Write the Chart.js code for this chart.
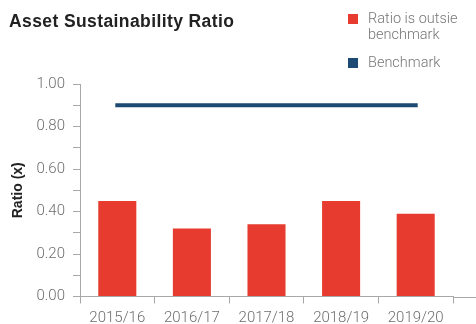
<!DOCTYPE html>
<html>
<head>
<meta charset="utf-8">
<script src="https://cdn.jsdelivr.net/npm/chart.js@4/dist/chart.umd.min.js"></script>
<style>
  html, body { margin: 0; padding: 0; background: #fff; }
  #wrap { position: relative; width: 476px; height: 324px; overflow: hidden; }
  #chart { position: absolute; left: 0; top: 0; }
  .title {
    position: absolute; left: 9px; top: 11px;
    font: bold 17.5px "Liberation Sans", Arial, sans-serif; color: #222;
    letter-spacing: 0.4px; white-space: nowrap;
  }
  .legend { position: absolute; left: 348px; top: 11px; font: 300 14.5px Roboto, "Liberation Sans", sans-serif; color: #777; line-height: 16px; }
  .legend .item { position: relative; padding-left: 20px; margin-bottom: 12px; }
  .legend .sw { position: absolute; left: 0; top: 3px; width: 10px; height: 10px; }
</style>
</head>
<body>
<div id="wrap">
  <canvas id="chart" width="476" height="324"></canvas>
  <div class="title">Asset Sustainability Ratio</div>
  <div class="legend">
    <div class="item"><span class="sw" style="background:#e63b2e"></span>Ratio is outsie<br>benchmark</div>
    <div class="item"><span class="sw" style="background:#1c4a73"></span>Benchmark</div>
  </div>
</div>
<script>
// Financial years shown along the bottom
const years = ['2015/16', '2016/17', '2017/18', '2018/19', '2019/20'];
// Asset sustainability ratio per year
const ratioValues = [0.45, 0.32, 0.34, 0.45, 0.39];
// Benchmark level
const benchmarkValues = [0.90, 0.90, 0.90, 0.90, 0.90];
// Labelled y ticks (unlabelled minor marks sit between them)
const yTickLabels = ['0.00', '0.20', '0.40', '0.60', '0.80', '1.00'];

const RED = '#e63b2e';
const NAVY = '#1c4a73';
const AXIS = '#a8a8a8';
const TICK_FONT = { family: 'Roboto, "Liberation Sans", sans-serif', size: 15, weight: 300 };

// Carries the baseline on past the last category to the canvas edge
const baselineRun = {
  id: 'baselineRun',
  afterDraw(chart) {
    const { ctx, chartArea } = chart;
    const y = Math.round(chartArea.bottom) + 0.5;
    ctx.save();
    ctx.strokeStyle = AXIS;
    ctx.lineWidth = 1;
    ctx.beginPath();
    ctx.moveTo(chartArea.right, y);
    ctx.lineTo(chart.width, y);
    ctx.stroke();
    ctx.restore();
  }
};

new Chart(document.getElementById('chart'), {
  data: {
    labels: years,
    datasets: [
      {
        type: 'line',
        label: 'Benchmark',
        data: benchmarkValues,
        borderColor: NAVY,
        borderWidth: 4,
        borderCapStyle: 'square',
        pointRadius: 0,
        fill: false,
        order: 0
      },
      {
        type: 'bar',
        label: 'Ratio is outsie benchmark',
        data: ratioValues,
        backgroundColor: RED,
        borderWidth: 0,
        categoryPercentage: 1,
        barPercentage: 0.51,
        order: 1
      }
    ]
  },
  plugins: [baselineRun],
  options: {
    responsive: false,
    animation: false,
    layout: { padding: { top: 84, right: 23, left: 0, bottom: 0 } },
    plugins: { legend: { display: false }, tooltip: { enabled: false }, title: { display: false } },
    scales: {
      x: {
        offset: true,
        grid: { offset: true, drawOnChartArea: false, drawTicks: true, tickLength: 7, color: AXIS },
        border: { display: true, color: AXIS },
        ticks: { color: '#6e6e6e', font: TICK_FONT, padding: 6, maxRotation: 0 },
        afterFit(scale) { scale.height = 27.5; }
      },
      y: {
        min: 0,
        max: 1,
        grid: { drawOnChartArea: false, drawTicks: true, tickLength: 7, color: AXIS },
        border: { display: true, color: AXIS },
        ticks: {
          stepSize: 0.1,
          color: '#6e6e6e',
          font: TICK_FONT,
          padding: 8,
          callback(v) {
            const n = Math.round(v * 10);
            return n % 2 === 0 ? yTickLabels[n / 2] : '';
          }
        },
        title: {
          display: true,
          text: 'Ratio (x)',
          color: '#222',
          font: { family: '"Liberation Sans", Arial, sans-serif', size: 14, weight: 'bold' },
          padding: { top: 10, bottom: 0 }
        },
        afterFit(scale) { scale.width = 80; }
      }
    }
  }
});
</script>
</body>
</html>
